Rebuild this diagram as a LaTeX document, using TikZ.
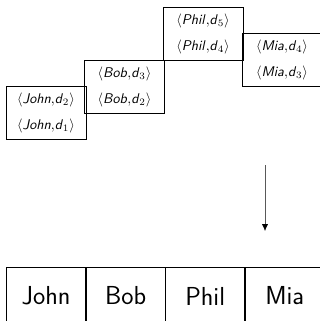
\documentclass[tikz,border=0pt]{standalone}
\usepackage{amsmath}
\usepackage{tikz}
\usetikzlibrary{positioning}
\usetikzlibrary{arrows.meta}

\newcommand{\pair}[2]{$\langle$\textit{#1}$,$\textit{d}$_{#2}\rangle$}

\begin{document}
\begin{tikzpicture}[x=0.025cm,y=-0.025cm,font=\sffamily,
    pairbox/.style={draw,thin,minimum width=2cm,minimum height=1.325cm,align=center,inner sep=0pt},
    cell/.style={draw,thin,minimum width=1.975cm,minimum height=1.45cm,font=\sffamily\fontsize{18.5}{22}\selectfont,inner sep=0pt}]
            \useasboundingbox (0,0) rectangle (320,321);
            % buckets of pairs
            \node[pairbox] (john) at (46,112.5) {\pair{John}{2}\\[6.5pt]\pair{John}{1}};
            \node[pairbox] (bob) at (124.5,86.5) {\pair{Bob}{3}\\[6.5pt]\pair{Bob}{2}};
            \node[pairbox] (phil) at (203,33.5) {\pair{Phil}{5}\\[6.5pt]\pair{Phil}{4}};
            \node[pairbox] (mia) at (282,60) {\pair{Mia}{4}\\[6.5pt]\pair{Mia}{3}};

            \coordinate (from) at (265,165);
            \coordinate (to) at (265,231);
            \draw[thin,-{Latex[length=1.7mm,width=1.5mm,black]},black!65] (from)--(to);

            % resulting keys
            \node[cell] (k1) at (46,296) {John};
            \node[cell,right=0pt of k1.east,anchor=west] (k2) {Bob};
            \node[cell,right=0pt of k2.east,anchor=west] (k3) {Phil};
            \node[cell,right=0pt of k3.east,anchor=west] (k4) {Mia};
        \end{tikzpicture}
\end{document}
